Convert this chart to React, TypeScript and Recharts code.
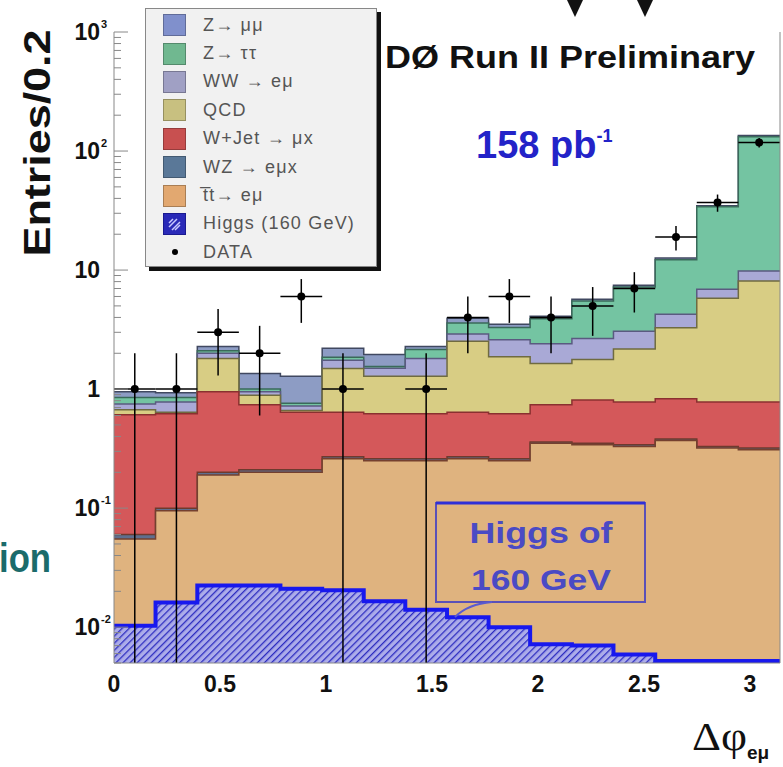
import React from "react";
import { ComposedChart, Area, Scatter, XAxis, YAxis, ReferenceLine } from "recharts";

// bin edges in delta-phi (16 bins up to pi)
const binEdges = [0, 0.196, 0.393, 0.589, 0.785, 0.982, 1.178, 1.374, 1.571, 1.767, 1.963, 2.16, 2.356, 2.553, 2.749, 2.945, 3.1416];

// per-process contributions, bottom of stack first
const ttbar = [0.055, 0.095, 0.19, 0.2, 0.2, 0.26, 0.25, 0.25, 0.26, 0.25, 0.35, 0.34, 0.33, 0.37, 0.32, 0.31];
const wz = [0.005, 0.005, 0.01, 0.01, 0.01, 0.01, 0.01, 0.01, 0.01, 0.01, 0.01, 0.01, 0.01, 0.01, 0.01, 0.01];
const wjet = [0.55, 0.52, 0.75, 0.53, 0.43, 0.37, 0.36, 0.36, 0.37, 0.36, 0.38, 0.46, 0.44, 0.45, 0.45, 0.46];
const qcd = [0.06, 0.02, 0.86, 0.15, 0.02, 0.85, 0.66, 0.66, 1.88, 1.25, 0.9, 0.96, 1.39, 2.44, 5.02, 7.32];
const ww = [0.08, 0.14, 0.19, 0.06, 0.06, 0.26, 0.22, 0.53, 0.38, 0.73, 0.77, 0.89, 0.89, 0.98, 1.1, 1.7];
const ztautau = [0.1, 0.07, 0.1, 0.05, 0.04, 0.1, 0.05, 0.34, 0.7, 0.7, 1.49, 2.84, 4.14, 7.95, 27.1, 122.2];
const zmumu = [0.1, 0.08, 0.18, 0.35, 0.52, 0.35, 0.4, 0.13, 0.34, 0.2, 0.19, 0.2, 0.27, 0.4, 0.7, 3.0];
const higgs = [0.0103, 0.0161, 0.0224, 0.0224, 0.021, 0.0204, 0.0165, 0.014, 0.0121, 0.01, 0.0072, 0.007, 0.0059, 0.0052, 0.0052, 0.0052];

const dataCounts = [1, 1, 3, 2, 6, 1, 0, 1, 4, 6, 4, 5, 7, 19, 37, 118];
const dataErr = [1, 1, 1.7, 1.4, 2.4, 1, 0, 1, 2, 2.4, 2, 2.2, 2.6, 4.4, 6.1, 10.9];

const xTicks = [0, 0.5, 1, 1.5, 2, 2.5, 3];
const xTickLabels = ["0", "0.5", "1", "1.5", "2", "2.5", "3"];
const yTicks = [0.01, 0.1, 1, 10, 100, 1000];
const yTickLabels = ["10^-2", "10^-1", "1", "10", "10^2", "10^3"];

const legendLabels = ["Z\u2192 \u03bc\u03bc", "Z\u2192 \u03c4\u03c4", "WW \u2192 e\u03bc", "QCD", "W+Jet \u2192 \u03bcx", "WZ \u2192 e\u03bcx", "t\u0305t\u2192 e\u03bc", "Higgs (160 GeV)", "DATA"];

const Y_MIN = 0.005;
const Y_MAX = 1000;
const X_MAX = 3.1416;
const FONT = "'Liberation Sans', Arial, sans-serif";

const stack = [
  { key: "tt", values: ttbar, fill: "#dfb37f", stroke: "#74402f", swatch: "#e2a870" },
  { key: "wz", values: wz, fill: "#5f6f8f", stroke: "#6e3a2e", swatch: "#5a7898" },
  { key: "wjet", values: wjet, fill: "#d4585a", stroke: "#8a3030", swatch: "#c85050" },
  { key: "qcd", values: qcd, fill: "#d8cd84", stroke: "#6f6b40", swatch: "#c8c080" },
  { key: "ww", values: ww, fill: "#a9a9d6", stroke: "#5a5a80", swatch: "#a0a0c4" },
  { key: "ztt", values: ztautau, fill: "#74c4a2", stroke: "#3a6a5a", swatch: "#70b890" },
  { key: "zmm", values: zmumu, fill: "#8d9cc4", stroke: "#404860", swatch: "#8090cc" },
];

const rows = binEdges.map((x, i) => {
  const b = Math.min(i, dataCounts.length - 1);
  const row: Record<string, number> = { x, higgs: higgs[b] };
  let sum = 0;
  stack.forEach((s) => {
    sum += s.values[b];
    row[s.key] = sum;
  });
  return row;
});

const points = dataCounts
  .map((n, i) => ({
    x: (binEdges[i] + binEdges[i + 1]) / 2,
    y: n,
    lo: Math.max(n - dataErr[i], Y_MIN),
    hi: n + dataErr[i],
    x0: binEdges[i],
    x1: binEdges[i + 1],
  }))
  .filter((p) => p.y > 0);

const minorY = [0.001, 0.01, 0.1, 1, 10, 100]
  .flatMap((d) => [2, 3, 4, 5, 6, 7, 8, 9].map((k) => d * k))
  .filter((v) => v >= Y_MIN && v < Y_MAX);
const topTicks = Array.from({ length: 32 }, (_, i) => i / 10);

const YTick = (props: any) => {
  const { x, y, payload } = props;
  const v = payload.value;
  const idx = yTicks.findIndex((t) => Math.abs(t - v) / t < 1e-6);
  if (idx < 0) return <line x1={x} x2={x + 7} y1={y} y2={y} stroke="#888" />;
  const [base, exp] = yTickLabels[idx].split("^");
  return (
    <g>
      <line x1={x} x2={x + 14} y1={y} y2={y} stroke="#888" />
      <text x={100} y={y + 8} textAnchor="end" fontFamily={FONT} fontWeight="bold" fontSize={23} fill="#111">
        {base}
      </text>
      {exp && (
        <text x={101} y={y - 4} fontFamily={FONT} fontWeight="bold" fontSize={11} fill="#111">
          {exp}
        </text>
      )}
    </g>
  );
};

const XTick = (props: any) => {
  const { x, y, payload } = props;
  const idx = xTicks.indexOf(payload.value);
  return (
    <text x={x} y={y + 29} textAnchor="middle" fontFamily={FONT} fontWeight="bold" fontSize={23} fill="#111">
      {idx >= 0 ? xTickLabels[idx] : ""}
    </text>
  );
};

const TopTick = (props: any) => {
  const { x, y, payload } = props;
  const major = Math.abs(payload.value * 2 - Math.round(payload.value * 2)) < 1e-6;
  return <line x1={x} x2={x} y1={y} y2={y + (major ? 12 : 6)} stroke="#999" />;
};

const Dot = (props: any) => <circle cx={props.cx} cy={props.cy} r={4} fill="#000" />;

function LegendBox() {
  const rowH = 28.4;
  return (
    <div
      style={{
        position: "absolute",
        left: 145,
        top: 8,
        width: 230,
        height: 257,
        background: "#f1f1f1",
        border: "1px solid #888",
        boxShadow: "4px 4px 0 #111",
        fontFamily: FONT,
      }}
    >
      {legendLabels.map((label, i) => {
        const s = stack[stack.length - 1 - i];
        const isHiggs = i === 7;
        const isData = i === 8;
        return (
          <div
            key={label}
            style={{ position: "absolute", left: 0, top: 2 + i * rowH, height: rowH, width: 230, display: "flex", alignItems: "center" }}
          >
            <div style={{ width: 17 }} />
            {isData ? (
              <div style={{ width: 23, display: "flex", justifyContent: "center" }}>
                <div style={{ width: 6, height: 6, borderRadius: 3, background: "#000" }} />
              </div>
            ) : isHiggs ? (
              <svg width={23} height={22}>
                <rect x={0.5} y={0.5} width={22} height={21} fill="#2a2ab8" stroke="#1a1a90" />
                <path d="M6 14 L14 6 M9 17 L17 9 M6 10 L10 6 M12 17 L17 12" stroke="#c8c8ff" strokeWidth={1.5} />
              </svg>
            ) : (
              <div style={{ width: 21, height: 20, background: s.swatch, border: "1px solid rgba(0,0,0,0.25)" }} />
            )}
            <div style={{ marginLeft: 17, fontSize: 18, letterSpacing: 1.2, color: "#555", whiteSpace: "nowrap" }}>{label}</div>
          </div>
        );
      })}
    </div>
  );
}

export default function App() {
  return (
    <div style={{ position: "absolute", left: 0, top: 0, width: 783, height: 767, background: "#fff", overflow: "hidden" }}>
      <ComposedChart width={783} height={767} data={rows} margin={{ top: 32, right: 0, bottom: 0, left: 0 }}>
        <defs>
          <pattern id="hatch" width={5} height={5} patternUnits="userSpaceOnUse" patternTransform="rotate(45)">
            <rect width={5} height={5} fill="#acacea" />
            <line x1={0} y1={0} x2={0} y2={5} stroke="#2c2cc0" strokeWidth={2.6} />
          </pattern>
        </defs>
        <XAxis
          dataKey="x"
          type="number"
          domain={[0, X_MAX]}
          allowDataOverflow
          ticks={xTicks}
          interval={0}
          height={104}
          tick={<XTick />}
          tickLine={false}
          tickSize={0}
          tickMargin={0}
          axisLine={{ stroke: "#888" }}
        />
        <XAxis
          xAxisId="top"
          orientation="top"
          type="number"
          domain={[0, X_MAX]}
          allowDataOverflow
          ticks={topTicks}
          interval={0}
          height={0}
          tick={<TopTick />}
          tickLine={false}
          tickSize={0}
          tickMargin={0}
          axisLine={{ stroke: "#888" }}
        />
        <YAxis
          scale="log"
          type="number"
          domain={[Y_MIN, Y_MAX]}
          allowDataOverflow
          ticks={[...yTicks, ...minorY]}
          interval={0}
          width={114}
          tick={<YTick />}
          tickLine={false}
          tickSize={0}
          tickMargin={0}
          axisLine={{ stroke: "#888" }}
        />
        <YAxis
          yAxisId="r"
          orientation="right"
          scale="log"
          type="number"
          domain={[Y_MIN, Y_MAX]}
          allowDataOverflow
          width={3}
          tick={false}
          tickLine={false}
          axisLine={{ stroke: "#888" }}
        />
        {[...stack].reverse().map((s) => (
          <Area
            key={s.key}
            type="stepAfter"
            dataKey={s.key}
            fill={s.fill}
            fillOpacity={1}
            stroke={s.stroke}
            strokeWidth={1.5}
            baseValue="dataMin"
            dot={false}
            activeDot={false}
            isAnimationActive={false}
          />
        ))}
        <Area
          type="stepAfter"
          dataKey="higgs"
          fill="url(#hatch)"
          fillOpacity={1}
          stroke="#1818ee"
          strokeWidth={4}
          baseValue="dataMin"
          dot={false}
          activeDot={false}
          isAnimationActive={false}
        />
        {points.map((p, i) => (
          <ReferenceLine
            key={"v" + i}
            segment={[
              { x: p.x, y: p.lo },
              { x: p.x, y: p.hi },
            ]}
            stroke="#000"
            strokeWidth={1.5}
            ifOverflow="visible"
          />
        ))}
        {points.map((p, i) => (
          <ReferenceLine
            key={"h" + i}
            segment={[
              { x: p.x0, y: p.y },
              { x: p.x1, y: p.y },
            ]}
            stroke="#000"
            strokeWidth={1.5}
            ifOverflow="visible"
          />
        ))}
        <Scatter data={points} dataKey="y" shape={<Dot />} isAnimationActive={false} />
      </ComposedChart>

      <LegendBox />

      <svg width={783} height={767} style={{ position: "absolute", left: 0, top: 0, pointerEvents: "none" }}>
        <polygon points="567,0 583,0 575,17" fill="#111" />
        <polygon points="637,0 653,0 645,17" fill="#111" />
        <text transform="translate(50,143) rotate(-90)" textAnchor="middle" fontFamily={FONT} fontWeight="bold" fontSize={36} fill="#111" textLength={227} lengthAdjust="spacingAndGlyphs">
          Entries/0.2
        </text>
        <text x={385} y={68} fontFamily={FONT} fontWeight="bold" fontSize={31} fill="#111" textLength={370} lengthAdjust="spacingAndGlyphs">
          DØ Run II Preliminary
        </text>
        <text x={476} y={158} fontFamily={FONT} fontWeight="bold" fontSize={38} fill="#2323c8">
          158 pb
          <tspan dy={-16} fontSize={18}>-1</tspan>
        </text>
        <rect x={436} y={503} width={209} height={99} fill="none" stroke="#5a50b8" strokeWidth={2} />
        <line x1={436} x2={645} y1={503} y2={503} stroke="#2f2fd8" strokeWidth={3} />
        <text x={541} y={543} textAnchor="middle" fontFamily={FONT} fontWeight="bold" fontSize={30} fill="#4a4ac4" textLength={143} lengthAdjust="spacingAndGlyphs">
          Higgs of
        </text>
        <text x={541} y={590} textAnchor="middle" fontFamily={FONT} fontWeight="bold" fontSize={30} fill="#4a4ac4" textLength={140} lengthAdjust="spacingAndGlyphs">
          160 GeV
        </text>
        <path d="M492 602 Q468 604 455 617" stroke="#5a5ad0" strokeWidth={2} fill="none" />
        <text x={-1} y={572} fontFamily={FONT} fontWeight="bold" fontSize={40} fill="#1b6b6b" textLength={52} lengthAdjust="spacingAndGlyphs">
          ion
        </text>
        <text x={692} y={750} fontFamily="'Liberation Serif', 'DejaVu Serif', serif" fontSize={40} fill="#111" textLength={55} lengthAdjust="spacingAndGlyphs">
          Δφ
        </text>
        <text x={747} y={759} fontFamily={FONT} fontWeight="bold" fontSize={19} fill="#111">
          eμ
        </text>
      </svg>
    </div>
  );
}
